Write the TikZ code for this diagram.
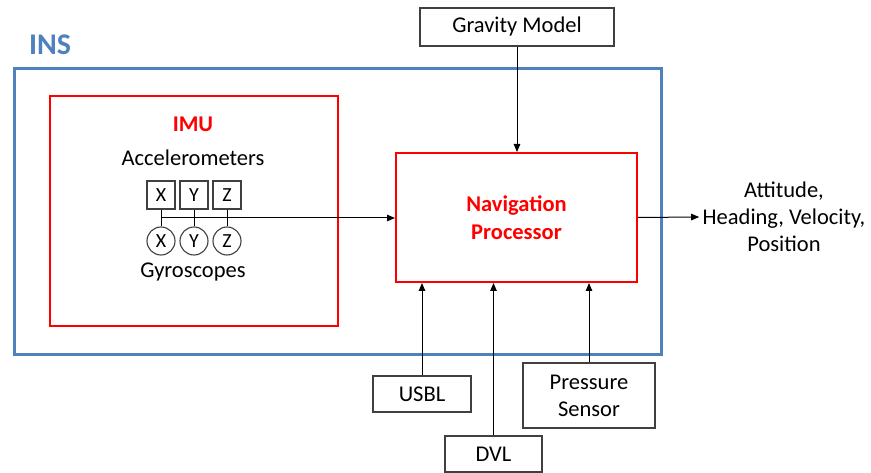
\documentclass[tikz,border=0pt]{standalone}
\usepackage{fontspec}
\setmainfont{Carlito}
\usepackage{xcolor}
\usetikzlibrary{arrows.meta, positioning}
\definecolor{insblue}{RGB}{79, 129, 189}
\definecolor{imured}{RGB}{255, 0, 0}
\definecolor{boxgray}{RGB}{64, 64, 64}

\begin{document}
\begin{tikzpicture}[x=1pt,y=-1pt,
    txt/.style={font=\fontsize{22.5}{27}\selectfont},
    hd/.style={font=\fontsize{22.5}{28}\selectfont\bfseries,text=imured},
    extbox/.style={draw=boxgray,line width=1.3pt,txt,inner sep=0pt,align=center},
    axis/.style={draw=boxgray,line width=1.1pt,minimum size=28pt,inner sep=0pt,font=\fontsize{20}{24}\selectfont},
    sig/.style={-{Triangle[length=8pt,width=6.5pt]},line width=1pt}]
        \useasboundingbox (0,0) rectangle (871,473);
        \clip (0,0) rectangle (871,473);
        % INS frame and IMU
        \node[draw=insblue,line width=3pt,minimum width=647pt,minimum height=286pt,inner sep=0pt] (ins) at (337.5,212) {};
        \node[font=\fontsize{30}{36}\selectfont\bfseries,text=insblue] (inslabel) at (50,45) {INS};
        \node[draw=imured,line width=2pt,minimum width=288pt,minimum height=230pt,inner sep=0pt] (imu) at (194,211) {};
        \node[hd] (imulabel) at (193,124) {IMU};
        \node[txt] (acc) at (193,158) {Accelerometers};
        \node[txt] (gyro) at (193,272) {Gyroscopes};
        \foreach \a/\x in {X/161,Y/194,Z/227}{
            \node[axis] (acc\a) at (\x,195) {\a};
            \node[axis,circle] (gyr\a) at (\x,241) {\a};
            \draw[line width=1pt] (acc\a) -- (gyr\a);
        }
        % navigation processor and its inputs
        \node[draw=imured,line width=2pt,minimum width=241pt,minimum height=129pt,align=center,hd] (nav) at (516.5,217.5) {Navigation\\Processor};
        \coordinate (bus) at (161,218);
        \draw[sig] (bus) -- (bus -| nav.west);
        \node[extbox,minimum width=194pt,minimum height=38pt] (grav) at (517,27) {Gravity Model};
        \draw[sig] (grav.south) -- (grav.south |- nav.north);
        \node[extbox,minimum width=98pt,minimum height=36pt] (usbl) at (422,394) {USBL};
        \node[extbox,minimum width=97pt,minimum height=36pt] (dvl) at (493.5,454) {DVL};
        \node[extbox,minimum width=132pt,minimum height=65pt,font=\fontsize{22.5}{27}\selectfont] (press) at (589,395.5) {Pressure\\Sensor};
        \foreach \s in {usbl,dvl,press}
            \draw[sig] (\s.north) -- (\s.north |- nav.south);
        % outputs
        \node[txt,align=center] (out) at (784,217) {Attitude,\\Heading, Velocity,\\Position};
        \draw[sig] (nav.east) -- (out.west);
\end{tikzpicture}
\end{document}
